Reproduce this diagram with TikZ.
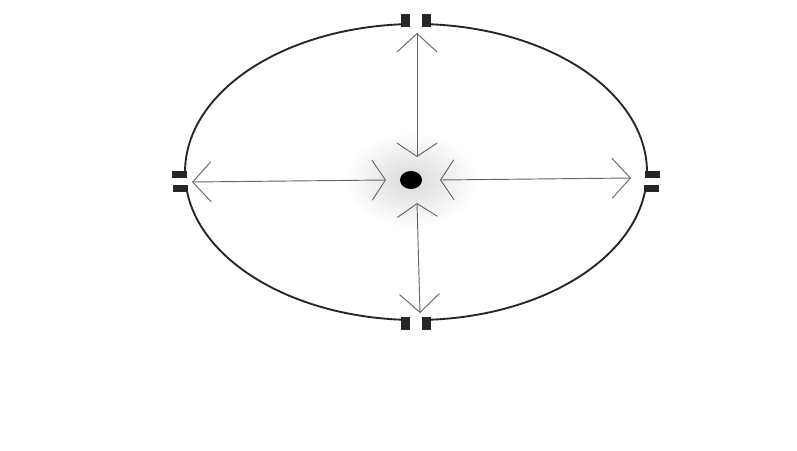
\documentclass[tikz,border=0pt]{standalone}
\usetikzlibrary{arrows.meta,shapes.geometric}
\begin{document}
\begin{tikzpicture}[x=0.03cm,y=-0.03cm,
  rim/.style={line width=1.6pt,black!85},
  tab/.style={fill=black!85},
  axis/.style={draw=black!60,line width=0.8pt,
    {Straight Barb[length=4mm,width=12mm]}-{Straight Barb[length=5.5mm,width=12mm]}}]
\useasboundingbox (0,0) rectangle (797,450);
\coordinate (C) at (416,172);
% outer rim, broken at the four electrodes
\draw[rim] (C) ++(5.2:231 and 148) coordinate (r2)
  arc[start angle=5.2,end angle=88.5,x radius=231,y radius=148] coordinate (b2);
\draw[rim] (C) ++(91.5:231 and 148) coordinate (b1)
  arc[start angle=91.5,end angle=174.8,x radius=231,y radius=148] coordinate (l2);
\draw[rim] (C) ++(177.8:231 and 148) coordinate (l1)
  arc[start angle=177.8,end angle=268.5,x radius=231,y radius=148] coordinate (t1);
\draw[rim] (C) ++(271.5:231 and 148) coordinate (t2)
  arc[start angle=271.5,end angle=362.2,x radius=231,y radius=148] coordinate (r1);
% electrode tabs
\fill[tab] (t1) ++(-9,-10) rectangle ++(9,13);
\fill[tab] (t2) ++(0,-10) rectangle ++(9,13);
\fill[tab] (b1) ++(-9,-3) rectangle ++(9,13);
\fill[tab] (b2) ++(0,-3) rectangle ++(9,13);
\fill[tab] (l1) ++(-13,-7) rectangle ++(15,7);
\fill[tab] (l2) ++(-13,0) rectangle ++(15,7);
\fill[tab] (r1) ++(-2,-7) rectangle ++(15,7);
\fill[tab] (r2) ++(-2,0) rectangle ++(15,7);
% halo and source
\shade[inner color=gray!30,outer color=white] (411,180) ellipse[x radius=66,y radius=48];
\coordinate (Nin) at (417,157);  \coordinate (Nout) at (417,33);
\coordinate (Sin) at (417,203);  \coordinate (Sout) at (420,313);
\coordinate (Win) at (386,180);  \coordinate (Wout) at (192,182);
\coordinate (Ein) at (440,180);  \coordinate (Eout) at (631,178);
\draw[axis] (Nin) -- (Nout);
\draw[axis] (Sin) -- (Sout);
\draw[axis] (Win) -- (Wout);
\draw[axis] (Ein) -- (Eout);
\node[fill=black,ellipse,inner sep=0pt,minimum width=0.66cm,minimum height=0.54cm] (src) at (411,180) {};
\end{tikzpicture}
\end{document}
